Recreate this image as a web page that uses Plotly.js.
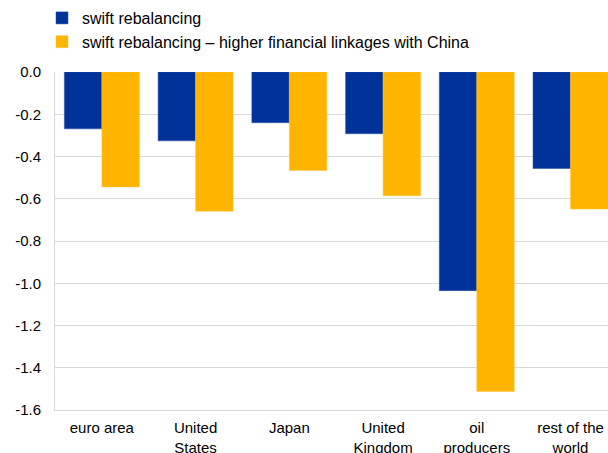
<!DOCTYPE html>
<html>
<head>
<meta charset="utf-8">
<script src="https://cdn.plot.ly/plotly-3.0.1.min.js"></script>
<style>html,body{margin:0;padding:0;background:#fff;}#chart{width:608px;height:453px;}</style>
</head>
<body>
<div id="chart"></div>
<script>
const categories = ["euro area", "United<br>States", "Japan", "United<br>Kingdom", "oil<br>producers", "rest of the<br>world"];
const seriesNames = ["swift rebalancing", "swift rebalancing \u2013 higher financial linkages with China"];
const swiftRebalancing = [-0.269, -0.326, -0.240, -0.292, -1.035, -0.457];
const higherLinkages = [-0.544, -0.659, -0.466, -0.586, -1.512, -0.649];
const yTickVals = [0, -0.2, -0.4, -0.6, -0.8, -1.0, -1.2, -1.4, -1.6];
const yTickText = ["0.0", "-0.2", "-0.4", "-0.6", "-0.8", "-1.0", "-1.2", "-1.4", "-1.6"];

const font = {family: "Liberation Sans, Arial, sans-serif", size: 15, color: "#000"};
const legendFont = {family: "Liberation Sans, Arial, sans-serif", size: 16, color: "#000"};
const xIdx = categories.map((c, i) => i);

const traces = [
  {type: "bar", name: seriesNames[0], x: xIdx, y: swiftRebalancing,
   marker: {color: "#003299", line: {color: "#2a4fa8", width: 0.5}}},
  {type: "bar", name: seriesNames[1], x: xIdx, y: higherLinkages,
   marker: {color: "#FFB400", line: {color: "#ffc733", width: 0.5}}}
];

const layout = {
  width: 608, height: 453,
  margin: {l: 55, r: 0, t: 72, b: 43, autoexpand: false},
  paper_bgcolor: "#fff", plot_bgcolor: "#fff",
  font: font,
  barmode: "group", bargap: 0.2, bargroupgap: 0,
  showlegend: true,
  legend: {x: 42 / 608, xref: "container", y: 1 - 1 / 453, yref: "container", xanchor: "left", yanchor: "top",
           orientation: "v", font: legendFont, bgcolor: "rgba(0,0,0,0)", itemwidth: 30, traceorder: "normal"},
  xaxis: {type: "linear", range: [-0.5, 5.4], tickmode: "array", tickvals: xIdx, ticktext: categories,
          showgrid: false, zeroline: false, showline: true, linecolor: "#d9d9d9", linewidth: 1,
          ticks: "", tickangle: 0, tickfont: font, ticklabelstandoff: 4, fixedrange: true},
  yaxis: {range: [-1.6, 0], tickmode: "array", tickvals: yTickVals, ticktext: yTickText,
          showgrid: true, gridcolor: "#d9d9d9", gridwidth: 1, zeroline: false,
          showline: true, linecolor: "#d9d9d9", linewidth: 1,
          ticks: "", tickfont: font, ticklabelstandoff: 10, fixedrange: true}
};

Plotly.newPlot("chart", traces, layout, {displayModeBar: false, staticPlot: true});
</script>
</body>
</html>
